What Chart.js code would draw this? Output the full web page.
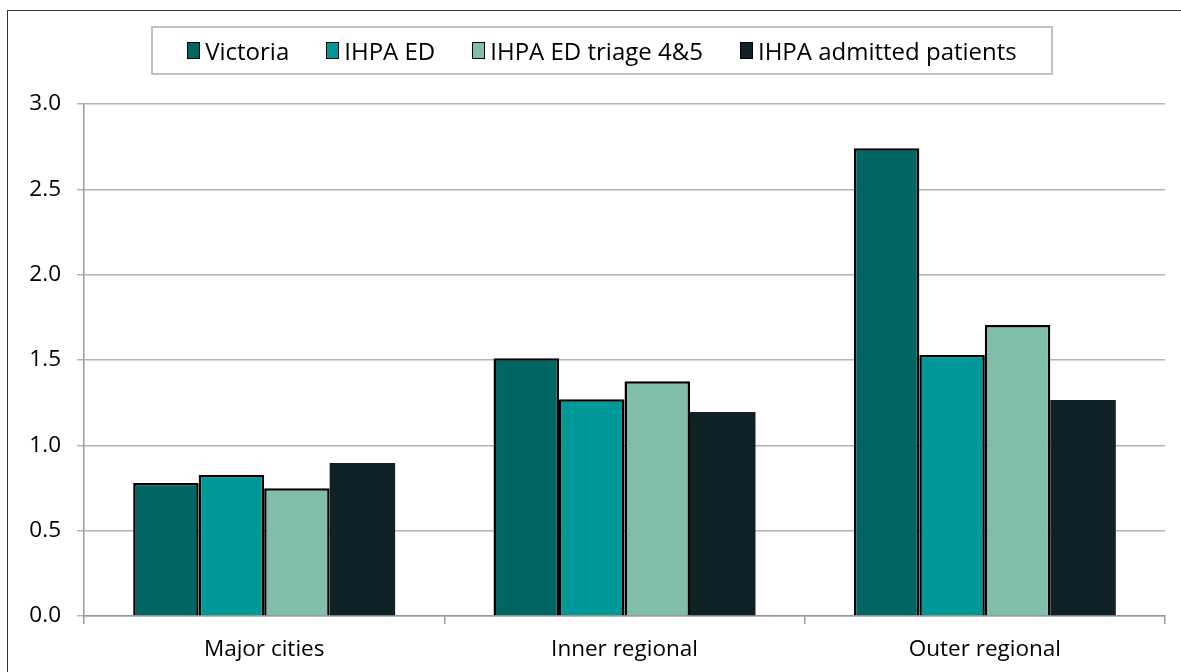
<!DOCTYPE html>
<html>
<head>
<meta charset="utf-8">
<script src="https://cdn.jsdelivr.net/npm/chart.js@4.4.1/dist/chart.umd.min.js"></script>
<style>
  html, body { margin:0; padding:0; background:#fff; }
  #wrap { position:relative; width:1181px; height:672px; overflow:hidden; }
  #frame { position:absolute; left:7px; top:10px; width:1200px; height:700px; border-left:1.5px solid #333; border-top:1.5px solid #333; }
  #legend { position:absolute; left:151px; top:26px; width:898px; height:45px; border:2px solid #c0c0c0;
    display:flex; align-items:center; justify-content:center; gap:37px; font-family:'Open Sans', sans-serif; font-size:24px; color:#000; }
  #legend .item { display:flex; align-items:center; gap:5px; }
  #legend .sw { width:11px; height:15px; border:1.5px solid #000; }
  canvas { position:absolute; left:0; top:0; }
</style>
</head>
<body>
<div id="wrap">
  <div id="frame"></div>
  <canvas id="c" width="1181" height="672"></canvas>
  <div id="legend"></div>
</div>
<script>
// data
const categories = ['Major cities', 'Inner regional', 'Outer regional'];
const seriesNames = ['Victoria', 'IHPA ED', 'IHPA ED triage 4&5', 'IHPA admitted patients'];
const victoria = [0.78, 1.51, 2.74];
const ihpaEd = [0.826, 1.27, 1.53];
const ihpaTriage = [0.748, 1.375, 1.705];
const ihpaAdmitted = [0.896, 1.195, 1.265];
const colors = ['#006663', '#009999', '#80bdaa', '#0f2228'];

const series = [victoria, ihpaEd, ihpaTriage, ihpaAdmitted];

// html legend in a grey box
const legend = document.getElementById('legend');
seriesNames.forEach((name, i) => {
  const item = document.createElement('div');
  item.className = 'item';
  item.innerHTML = `<span class="sw" style="background:${colors[i]}"></span><span></span>`;
  item.lastChild.textContent = name;
  legend.appendChild(item);
});

const font = { family: "'Open Sans', sans-serif", size: 22.5 };

new Chart(document.getElementById('c'), {
  type: 'bar',
  data: {
    labels: categories,
    datasets: series.map((d, i) => ({
      label: seriesNames[i],
      data: d,
      backgroundColor: colors[i],
      borderColor: i === 3 ? colors[i] : '#000',
      borderWidth: i === 3 ? 0 : 2.5,
      categoryPercentage: 0.727,
      barPercentage: 1.0,
    }))
  },
  options: {
    responsive: false,
    animation: false,
    layout: { padding: { left: 24, right: 16, top: 104, bottom: 0 } },
    plugins: { legend: { display: false }, tooltip: { enabled: false } },
    scales: {
      x: {
        grid: { offset: true, drawOnChartArea: false, color: '#999', tickLength: 8, lineWidth: 1.5 },
        border: { color: '#999', width: 1.5 },
        ticks: { color: '#000', font, padding: 12 },
        afterFit: s => { s.height = 56; },
      },
      y: {
        min: 0, max: 3,
        grid: { color: '#b4b4b4', lineWidth: 1.5, tickLength: 7 },
        border: { color: '#999', width: 1.5 },
        ticks: { stepSize: 0.5, color: '#000', font, padding: 16, callback: v => v.toFixed(1) },
        afterFit: s => { s.width = 60; },
      }
    }
  }
});
</script>
</body>
</html>
